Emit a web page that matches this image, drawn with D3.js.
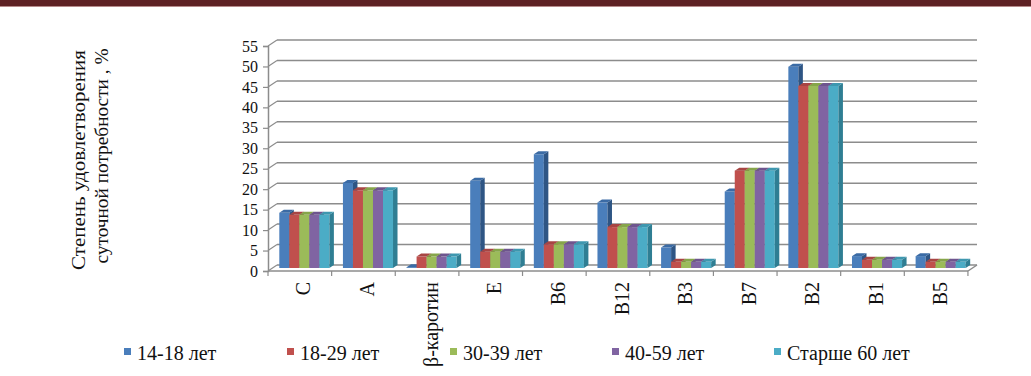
<!DOCTYPE html>
<html>
<head>
<meta charset="utf-8">
<script src="https://cdn.jsdelivr.net/npm/d3@7"></script>
<style>
  body { margin: 0; background: #fff; }
  svg text { fill: #111; }
</style>
</head>
<body>
<div id="chart"></div>
<script>
// Categories (vitamins) and age groups
const categories = ["С", "А", "β-каротин", "Е", "В6", "В12", "В3", "В7", "В2", "В1", "В5"];
const seriesNames = ["14-18 лет", "18-29 лет", "30-39 лет", "40-59 лет", "Старше 60 лет"];

// Values, % of daily need
const age14_18 = [13.5, 20.8, 0.2, 21.3, 27.8, 16, 5, 18.7, 49.2, 2.9, 2.9];
const age18_29 = [13, 19, 2.8, 4, 5.8, 10, 1.5, 23.8, 44.5, 2, 1.5];
const age30_39 = [13, 19, 2.8, 4, 5.8, 10, 1.5, 23.8, 44.5, 2, 1.5];
const age40_59 = [13, 19, 2.8, 4, 5.8, 10, 1.5, 23.8, 44.5, 2, 1.5];
const age60plus = [13, 19, 2.8, 4, 5.8, 10, 1.5, 23.8, 44.5, 2, 1.5];

const yTicks = [0, 5, 10, 15, 20, 25, 30, 35, 40, 45, 50, 55];

const allSeries = [age14_18, age18_29, age30_39, age40_59, age60plus];

// Excel 2007 palette: front, side, top
const colors = [
  { front: "#4A7EBB", side: "#2E5584", top: "#3B6BA5" },
  { front: "#C0504D", side: "#8A3533", top: "#A84543" },
  { front: "#9BBB59", side: "#6E873C", top: "#86A54A" },
  { front: "#8064A2", side: "#5A4574", top: "#6E558E" },
  { front: "#4BACC6", side: "#2F7E93", top: "#3E97AF" }
];

const W = 1031, H = 376;
const depthX = 9, depthY = 6;   // 3D floor depth offset
const font = '"Liberation Serif", "Times New Roman", "Liberation Sans", sans-serif';

const svg = d3.select("#chart")
  .append("svg")
  .attr("width", W)
  .attr("height", H)
  .attr("font-family", font);

// dark band along the top of the page
svg.append("rect").attr("x", 0).attr("y", 0).attr("width", W).attr("height", 6).attr("fill", "#5E2124");
svg.append("line").attr("x1", 0).attr("x2", W).attr("y1", 6.5).attr("y2", 6.5)
  .attr("stroke", "#B78B8B").attr("stroke-width", 1);

// scales on the front plane
const y = d3.scaleLinear().domain([0, 55]).range([271, 46]);
const x0 = d3.scaleBand()
  .domain(categories)
  .range([268, 968])
  .paddingInner(0.213)
  .paddingOuter(0.107);
const x1 = d3.scaleBand()
  .domain(d3.range(seriesNames.length))
  .range([0, x0.bandwidth()]);

const gridColor = "#8C8C8C";

// back wall + side wall gridlines
const grid = svg.append("g");
yTicks.forEach(t => {
  const yf = y(t);
  grid.append("line")
    .attr("x1", 268 + depthX).attr("x2", 968 + depthX)
    .attr("y1", yf - depthY).attr("y2", yf - depthY)
    .attr("stroke", gridColor).attr("stroke-width", 1.5);
  grid.append("line")
    .attr("x1", 268).attr("x2", 268 + depthX)
    .attr("y1", yf).attr("y2", yf - depthY)
    .attr("stroke", gridColor).attr("stroke-width", 1.2);
});

// floor edges
grid.append("line").attr("x1", 268).attr("x2", 968).attr("y1", y(0)).attr("y2", y(0))
  .attr("stroke", gridColor).attr("stroke-width", 1.5);
grid.append("line").attr("x1", 968).attr("x2", 968 + depthX).attr("y1", y(0)).attr("y2", y(0) - depthY)
  .attr("stroke", gridColor).attr("stroke-width", 1.5);

// value axis (front)
const yAxis = svg.append("g")
  .attr("transform", "translate(268,0)")
  .call(d3.axisLeft(y).tickValues(yTicks).tickSize(5).tickPadding(5));
yAxis.attr("font-family", font);
yAxis.select(".domain").attr("stroke", gridColor).attr("stroke-width", 1.5);
yAxis.selectAll(".tick line").attr("stroke", gridColor).attr("stroke-width", 1.2);
yAxis.selectAll(".tick text")
  .attr("font-size", 16)
  .attr("fill", "#111");

// category ticks along the floor front edge
const step = x0.step();
d3.range(categories.length + 1).forEach(k => {
  const xx = 268 + k * step;
  svg.append("line")
    .attr("x1", xx).attr("x2", xx)
    .attr("y1", y(0)).attr("y2", y(0) + 5)
    .attr("stroke", gridColor).attr("stroke-width", 1.2);
});

// bars: front face in the middle of the depth, back face at the back wall
const bars = svg.append("g");
const bx = depthX / 2, by = depthY / 2;
categories.forEach((cat, ci) => {
  allSeries.forEach((vals, si) => {
    const v = vals[ci];
    const xl = x0(cat) + x1(si) + bx;
    const w = x1.bandwidth();
    const yb = y(0) - by;
    const yt = y(v) - by;
    const c = colors[si];
    bars.append("rect")
      .attr("x", xl).attr("y", yt)
      .attr("width", w).attr("height", yb - yt)
      .attr("fill", c.front);
    bars.append("polygon")
      .attr("points", [[xl + w, yt], [xl + w + bx, yt - by], [xl + w + bx, yb - by], [xl + w, yb]].join(" "))
      .attr("fill", c.side);
    bars.append("polygon")
      .attr("points", [[xl, yt], [xl + w, yt], [xl + w + bx, yt - by], [xl + bx, yt - by]].join(" "))
      .attr("fill", c.top);
  });
});

// category labels, rotated
svg.append("g")
  .selectAll("text")
  .data(categories)
  .enter()
  .append("text")
  .attr("transform", d => `translate(${x0(d) + x0.bandwidth() / 2 + bx - 1},282) rotate(-90)`)
  .attr("text-anchor", "end")
  .attr("dy", "0.35em")
  .attr("font-size", 20)
  .text(d => d);

// y axis title
svg.append("text")
  .attr("transform", "translate(85,160) rotate(-90)")
  .attr("text-anchor", "middle")
  .attr("font-size", 19)
  .attr("textLength", 220)
  .attr("lengthAdjust", "spacingAndGlyphs")
  .text("Степень удовлетворения");
svg.append("text")
  .attr("transform", "translate(108,156) rotate(-90)")
  .attr("text-anchor", "middle")
  .attr("font-size", 19)
  .attr("textLength", 215)
  .attr("lengthAdjust", "spacingAndGlyphs")
  .text("суточной потребности , %");

// legend, items placed as in the original layout
const legendX = [137, 300, 463, 625, 787];
const legend = svg.append("g");
seriesNames.forEach((name, i) => {
  legend.append("rect")
    .attr("x", legendX[i] - 13).attr("y", 348)
    .attr("width", 7).attr("height", 7)
    .attr("fill", colors[i].front);
  legend.append("text")
    .attr("x", legendX[i]).attr("y", 360)
    .attr("font-size", 20)
    .text(name);
});
</script>
</body>
</html>
